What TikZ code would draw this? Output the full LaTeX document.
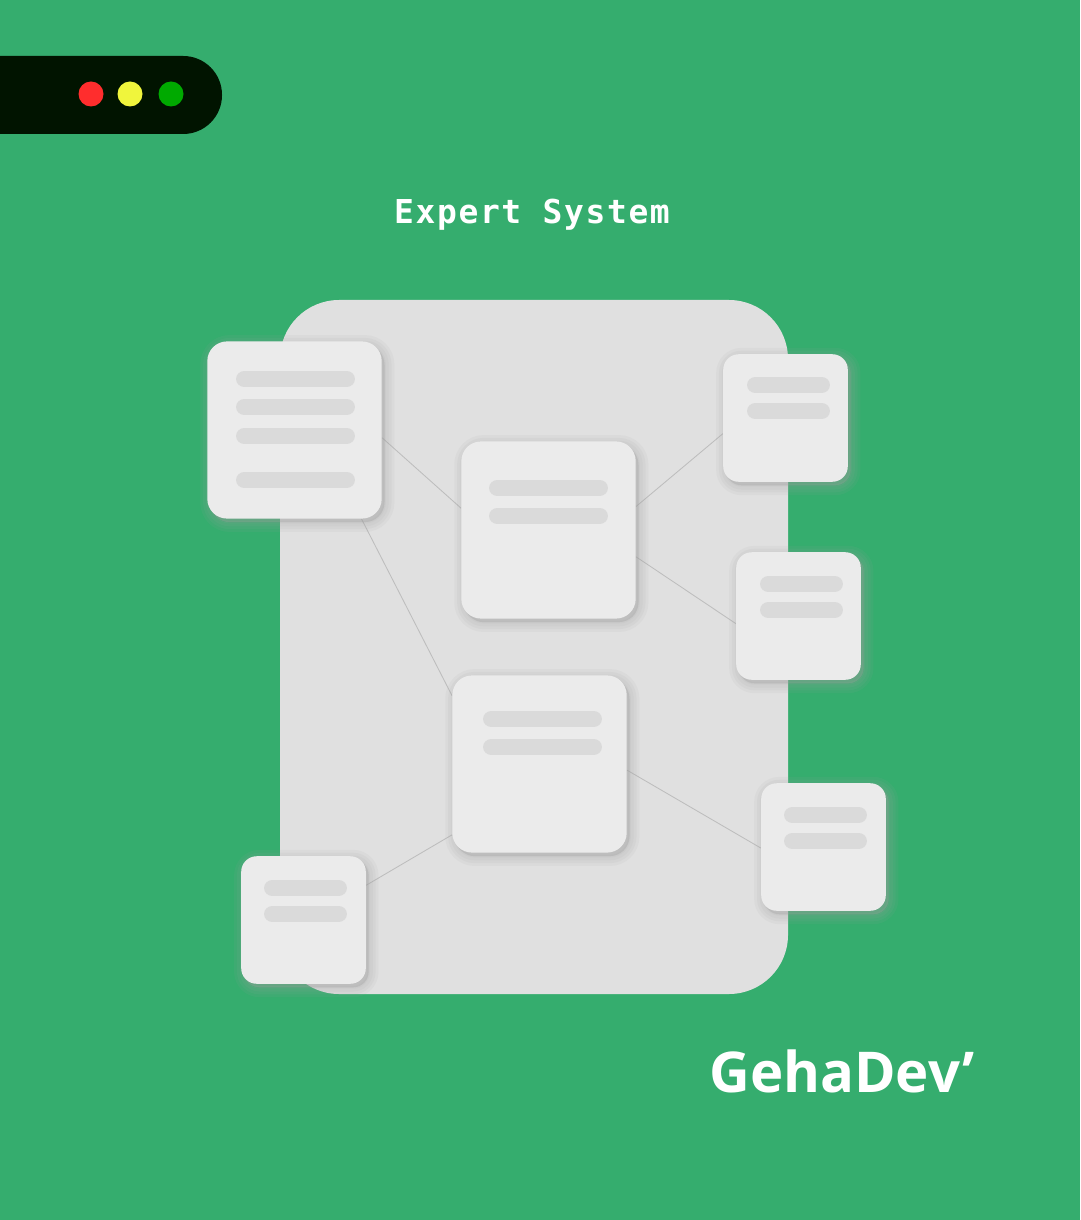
\documentclass[tikz,border=0pt]{standalone}
\usepackage{fontspec}
\newfontfamily\titlefont[LetterSpace=5]{DejaVu Sans Mono}
\newfontfamily\logofont{Open Sans}
\usetikzlibrary{positioning,backgrounds}
\definecolor{bggreen}{HTML}{35AD6E}
\definecolor{bardark}{HTML}{011400}
\definecolor{dotred}{HTML}{FF2D2D}
\definecolor{dotyellow}{HTML}{F0F53C}
\definecolor{dotgreen}{HTML}{00AA00}
\definecolor{panelgray}{HTML}{E0E0E0}
\definecolor{cardgray}{HTML}{EBEBEB}
\definecolor{bargray}{HTML}{DADADA}
\definecolor{linegray}{HTML}{BDBDBD}
\definecolor{shadowgray}{HTML}{A0A0A0}
\tikzset{% cards and their links
	soft/.style={preaction={draw=shadowgray, fill=shadowgray, opacity=0.09, line width=#1,
		transform canvas={xshift=2pt, yshift=-2.5pt}}},
	card/.style={fill=cardgray, inner sep=0pt, rounded corners=14pt,
		soft=14pt, soft=10pt, soft=6pt, soft=2pt},
	bigcard/.style={card, minimum width=124pt, minimum height=126pt},
	smallcard/.style={card, rounded corners=11pt, minimum width=88.6pt, minimum height=90.7pt},
	textbar/.style={draw=bargray, line width=12pt, line cap=round},
	link/.style={draw=linegray, line width=0.6pt}
}

\begin{document}
\begin{tikzpicture}[x=0.025cm, y=-0.025cm]
	\clip (0,0) rectangle (1080,1220);
	\begin{scope}[on background layer]
		\fill[bggreen] (0,0) rectangle (1080,1220);
		% window bar
		\fill[bardark, rounded corners=27.6pt] (-60,56) rectangle (222,134);
		\fill[panelgray, rounded corners=42pt] (280,300) rectangle (788,994);
	\end{scope}
	\foreach \x/\c in {91/dotred,130/dotyellow,171/dotgreen}
		\fill[\c] (\x,94) circle (12.5);
	
	\node[anchor=base, text=white, font=\titlefont\bfseries\fontsize{23.4}{28}\selectfont] (title) at (532,224) {Expert System};
	
	\node[bigcard] (tl) at (294.5,430) {};
	\node[bigcard] (ct) at (548.5,530) {};
	\node[bigcard] (cb) at (539.5,764) {};
	\node[smallcard] (rt) at (785.5,418) {};
	\node[smallcard] (rm) at (798.5,616) {};
	\node[smallcard] (rb) at (823.5,847) {};
	\node[smallcard] (bl) at (303.5,920) {};
	
	% bars inside the cards
	\foreach \x/\y/\l in {244.5/379/102,244.5/407/102,244.5/436/102,244.5/480/102,
		497.5/488/102,497.5/516/102,491.5/719/102,491.5/747/102,
		755.5/385/66,755.5/411/66,768.5/584/66,768.5/610/66,
		792.5/815/66,792.5/841/66,272.5/888/66,272.5/914/66}
		\draw[textbar] (\x,\y) -- ++(\l,0);
	
	\begin{scope}[on background layer]
		\draw[link] (tl.-5) -- (ct.166);
		\draw[link] (tl.-53) -- (cb.142);
		\draw[link] (ct.15) -- (rt.194);
		\draw[link] (ct.-17) -- (rm.187);
		\draw[link] (cb.-4) -- (rb.181);
		\draw[link] (cb.-141) -- (bl.29);
	\end{scope}
	
	\node[anchor=base, text=white, font=\logofont\bfseries\fontsize{40}{46}\selectfont] (logo) at (842,1092) {GehaDev’};
\end{tikzpicture}
\end{document}
